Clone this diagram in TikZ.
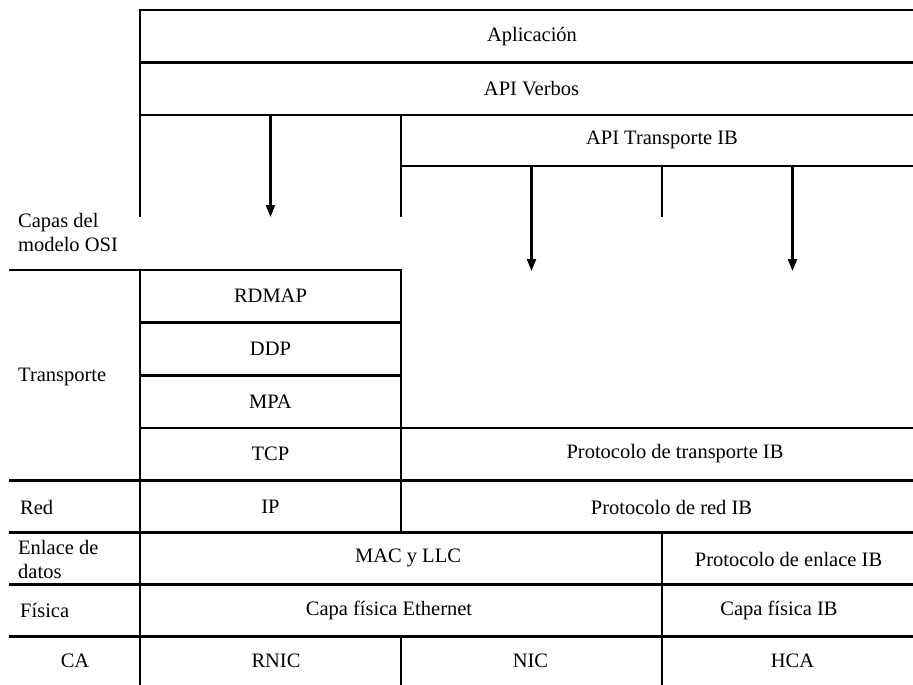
\documentclass[tikz,border=0pt]{standalone}
\usepackage{fontspec}
\setmainfont{Liberation Serif}
\usetikzlibrary{arrows.meta}

\begin{document}
\begin{tikzpicture}[x=1pt,y=-1pt,
    rule/.style={line width=2.2pt, line cap=rect},
    flow/.style={line width=2.2pt, -{Triangle[width=9pt,length=12pt]}},
    lbl/.style={font=\fontsize{20.5}{24}\selectfont, inner sep=0pt},
    side/.style={lbl, anchor=west, align=left}]
  \useasboundingbox (0,0) rectangle (913,685);

  % application and verbs rows
  \draw[rule] (140,216) -- (140,10) -- (913,10);
  \draw[rule] (140,62.5) -- (913,62.5);
  \draw[rule] (140,115) -- (913,115);
  % IB transport API box
  \draw[rule] (401,216) -- (401,115);
  \draw[rule] (401,166) -- (913,166);
  \draw[rule] (662,166) -- (662,216);

  % iWARP stack
  \draw[rule] (10,270) -- (401,270);
  \draw[rule] (140,270) -- (140,685);
  \draw[rule] (401,270) -- (401,533);
  \draw[rule] (140,322.5) -- (401,322.5);
  \draw[rule] (140,375.5) -- (401,375.5);
  \draw[rule] (140,428) -- (913,428);
  \draw[rule] (10,480.5) -- (913,480.5);
  \draw[rule] (10,532.5) -- (913,532.5);
  \draw[rule] (662,532.5) -- (662,685);
  \draw[rule] (10,584.5) -- (913,584.5);
  \draw[rule] (10,636.5) -- (913,636.5);
  \draw[rule] (401,636.5) -- (401,685);

  % arrow start and end points
  \coordinate (vA) at (270.5,115);  \coordinate (vB) at (270.5,217);
  \coordinate (tA) at (531.5,166);  \coordinate (tB) at (531.5,271);
  \coordinate (uA) at (792.5,166);  \coordinate (uB) at (792.5,271);
  \draw[flow] (vA) -- (vB);
  \draw[flow] (tA) -- (tB);
  \draw[flow] (uA) -- (uB);

  % cell texts
  \node[lbl] (app)  at (532,37)    {Aplicación};
  \node[lbl] (verb) at (531.5,89)  {API Verbos};
  \node[lbl] (ibapi) at (662,140)  {API Transporte IB};
  \node[lbl] (rdmap) at (270.5,296) {RDMAP};
  \node[lbl] (ddp)  at (270.5,349) {DDP};
  \node[lbl] (mpa)  at (270.5,402) {MPA};
  \node[lbl] (tcp)  at (270.5,454) {TCP};
  \node[lbl] (ibtp) at (675,454)   {Protocolo de transporte IB};
  \node[lbl] (ip)   at (270.5,507) {IP};
  \node[lbl] (ibnet) at (671.5,507) {Protocolo de red IB};
  \node[lbl] (mac)  at (408,558)   {MAC y LLC};
  \node[lbl] (iblink) at (788.5,559) {Protocolo de enlace IB};
  \node[lbl] (ethphy) at (389,610) {Capa física Ethernet};
  \node[lbl] (ibphy) at (779,610)  {Capa física IB};
  \node[lbl] (ca)   at (75,661)    {CA};
  \node[lbl] (rnic) at (276,661)   {RNIC};
  \node[lbl] (nic)  at (530.5,661) {NIC};
  \node[lbl] (hca)  at (792.5,661) {HCA};

  % OSI layer names
  \node[side] (osi)   at (18,232) {Capas del\\modelo OSI};
  \node[side] (ltrans) at (18,377) {Transporte};
  \node[side] (lred)  at (20,507) {Red};
  \node[side] (lenl)  at (18,559) {Enlace de\\datos};
  \node[side] (lfis)  at (20,610) {Física};
\end{tikzpicture}
\end{document}
